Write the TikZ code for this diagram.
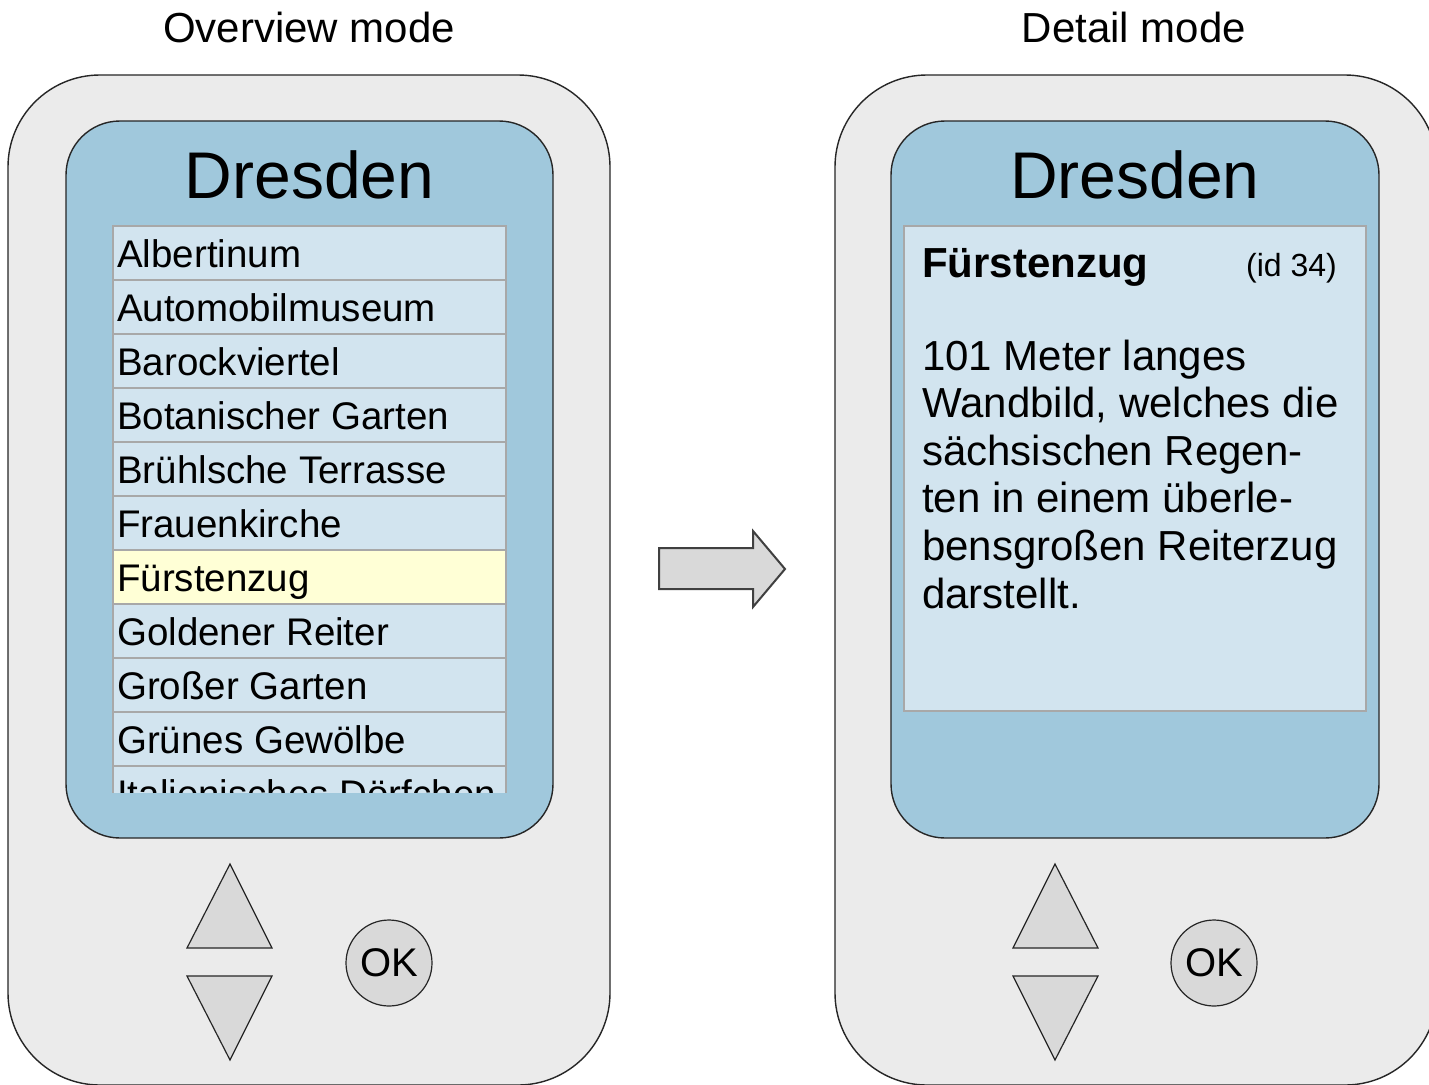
\documentclass[tikz,border=0pt]{standalone}
\usepackage{fontspec}
\setmainfont{Liberation Sans}

\definecolor{phonegray}{HTML}{EBEBEB}
\definecolor{screenblue}{HTML}{A0C8DC}
\definecolor{rowblue}{HTML}{D2E4EF}
\definecolor{rowhigh}{HTML}{FFFFD6}
\definecolor{rowline}{HTML}{A8A8A8}
\definecolor{keygray}{HTML}{D9D9D9}
\definecolor{edge}{HTML}{262626}

\newcommand{\fsz}[1]{\fontsize{#1}{1.2\dimexpr#1pt\relax}\selectfont}

\tikzset{
  phone/.style={fill=phonegray, draw=edge, line width=1.4pt, rounded corners=92pt},
  screen/.style={fill=screenblue, draw=edge, line width=1.4pt, rounded corners=54pt},
  listrow/.style={fill=rowblue, draw=rowline, line width=1.6pt},
  hirow/.style={fill=rowhigh, draw=rowline, line width=1.6pt},
  panel/.style={fill=rowblue, draw=rowline, line width=1.6pt},
  key/.style={fill=keygray, draw=edge, line width=1.2pt, line join=miter},
  okkey/.style={circle, fill=keygray, draw=edge, line width=1.2pt,
    minimum size=86pt, inner sep=0pt, font=\fsz{40}},
  heading/.style={anchor=base, inner sep=0pt, font=\fsz{42}},
  city/.style={anchor=base, inner sep=0pt, font=\fsz{66}},
  entry/.style={anchor=base west, inner sep=0pt, font=\fsz{38.5}},
  body/.style={anchor=base west, inner sep=0pt, font=\fsz{42}},
  goarrow/.style={fill=keygray, draw=black!75, line width=2pt, line join=miter},
}

\begin{document}
\begin{tikzpicture}[x=1pt, y=-1pt]
\useasboundingbox (0,0) rectangle (1429,1084);
\clip (0,0) rectangle (1429,1084);
\fill[white] (0,0) rectangle (1429,1084);

% ---------- overview device ----------
\node[heading] (t1) at (309,42) {Overview mode};
\draw[phone] (8,75) rectangle (610,1085);
\draw[screen] (66,121) rectangle (553,838);
\node[city] (c1) at (309.5,198) {Dresden};

\begin{scope}
  \clip (112,224) rectangle (508,792);
  \foreach \name [count=\i from 0] in {Albertinum, Automobilmuseum, Barockviertel,
      Botanischer Garten, Brühlsche Terrasse, Frauenkirche, Fürstenzug,
      Goldener Reiter, Großer Garten, Grünes Gewölbe, Italienisches Dörfchen} {
    \pgfmathsetmacro{\rowtop}{226+54*\i}
    \ifnum\i=6
      \draw[hirow] (113,\rowtop) rectangle (506,\rowtop+54);
    \else
      \draw[listrow] (113,\rowtop) rectangle (506,\rowtop+54);
    \fi
    \node[entry] (e\i) at (117,\rowtop+41) {\name};
  }
\end{scope}

\draw[key] (230,864) -- (272,948) -- (187,948) -- cycle;
\draw[key] (187,976) -- (272,976) -- (230,1060) -- cycle;
\node[okkey] (ok1) at (389,963) {OK};

% ---------- transition arrow ----------
\draw[goarrow] (659,548) -- (753,548) -- (753,531) -- (785,569)
  -- (753,607) -- (753,589) -- (659,589) -- cycle;

% ---------- detail device ----------
\node[heading] (t2) at (1134,42) {Detail mode};
\draw[phone] (835,75) rectangle (1437,1085);
\draw[screen] (891,121) rectangle (1379,838);
\node[city] (c2) at (1135,198) {Dresden};

\draw[panel] (904,226) rectangle (1366,711);
\node[anchor=base west, inner sep=0pt, font=\fsz{42}\bfseries] (dt) at (922,277) {Fürstenzug};
\node[anchor=base east, inner sep=0pt, font=\fsz{32}] (did) at (1337,276) {(id 34)};
\node[body] (d1) at (922,370.0) {101 Meter langes};
\node[body] (d2) at (922,417.6) {Wandbild, welches die};
\node[body] (d3) at (922,465.2) {sächsischen Regen-};
\node[body] (d4) at (922,512.8) {ten in einem überle-};
\node[body] (d5) at (922,560.4) {bensgroßen Reiterzug};
\node[body] (d6) at (922,608.0) {darstellt.};

\draw[key] (1055,864) -- (1098,948) -- (1013,948) -- cycle;
\draw[key] (1013,976) -- (1098,976) -- (1055,1060) -- cycle;
\node[okkey] (ok2) at (1214,963) {OK};
\end{tikzpicture}
\end{document}
